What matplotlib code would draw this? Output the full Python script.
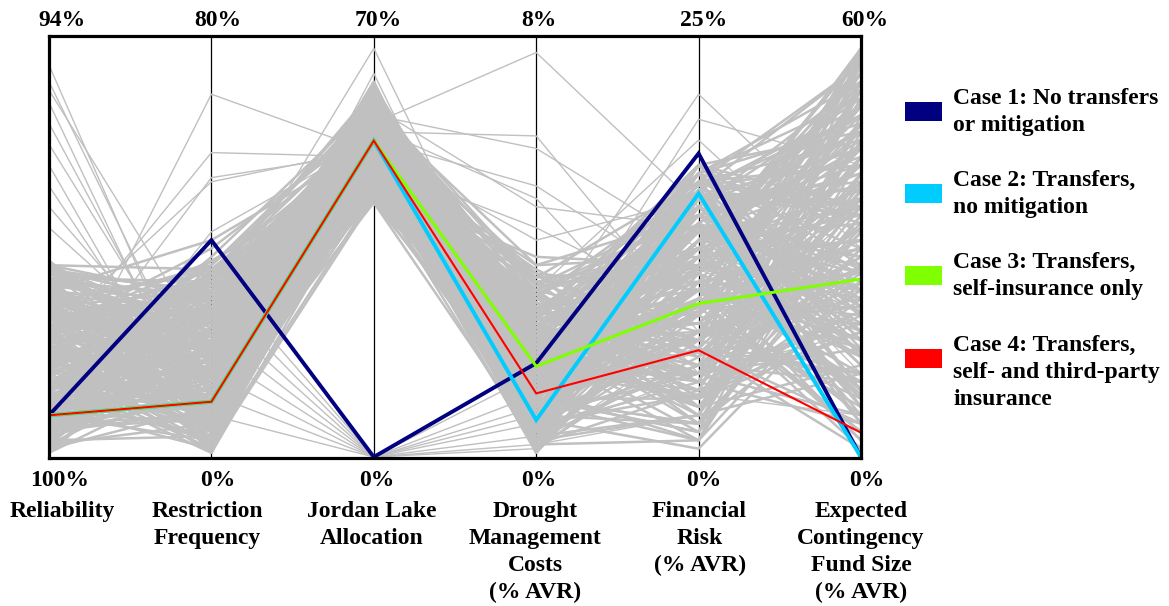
import matplotlib
matplotlib.use("Agg")
import matplotlib.pyplot as plt
from matplotlib.patches import Rectangle
from matplotlib.transforms import offset_copy, blended_transform_factory
import numpy as np

# ---- objectives (axes) ----
objective_names = [
    "Reliability",
    "Restriction\nFrequency",
    "Jordan Lake\nAllocation",
    "Drought\nManagement\nCosts\n(% AVR)",
    "Financial\nRisk\n(% AVR)",
    "Expected\nContingency\nFund Size\n(% AVR)",
]
axis_top_values = [94, 80, 70, 8, 25, 60]      # value at top of each axis (%)
axis_bottom_values = [100, 0, 0, 0, 0, 0]      # value at bottom of each axis (%)

# ---- highlighted cases (values in % on each objective) ----
case_labels = [
    "Case 1: No transfers\nor mitigation",
    "Case 2: Transfers,\nno mitigation",
    "Case 3: Transfers,\nself-insurance only",
    "Case 4: Transfers,\nself- and third-party\ninsurance",
]
case_colors = ["#000080", "#00ccff", "#80ff00", "#ff0000"]
case1 = [99.4, 41.6, 0.0, 1.80, 18.2, 0.0]
case2 = [99.4, 10.6, 53.1, 0.71, 15.8, 0.0]
case3 = [99.4, 10.6, 53.1, 1.74, 9.2, 25.6]
case4 = [99.4, 10.6, 53.1, 1.22, 6.4, 3.5]
case_values = [case1, case2, case3, case4]
case_widths = [2.8, 2.8, 2.2, 1.5]

# ---- full solution set (position along each axis, % of axis range) ----
# bulk of the solutions
core_solutions = [
    [12, 30, 72, 20, 45, 60], [25, 18, 68, 15, 38, 80], [8, 40, 80, 30, 60, 25],
    [35, 22, 75, 10, 20, 90], [18, 10, 65, 25, 55, 40], [40, 35, 82, 35, 65, 70],
    [5, 15, 70, 8, 15, 55], [28, 42, 78, 22, 50, 15], [15, 28, 62, 40, 30, 85],
    [45, 12, 85, 18, 68, 30], [22, 38, 74, 5, 10, 95], [10, 20, 67, 28, 42, 50],
    [32, 8, 79, 12, 58, 65], [3, 33, 71, 45, 25, 20], [20, 25, 88, 16, 48, 75],
    [38, 44, 64, 33, 62, 45], [14, 5, 76, 6, 35, 88], [27, 36, 83, 38, 18, 35],
    [7, 26, 69, 20, 70, 60], [42, 16, 73, 26, 40, 10], [17, 41, 81, 11, 52, 92],
    [30, 14, 66, 42, 28, 55], [9, 34, 77, 24, 64, 28], [36, 21, 70, 14, 8, 72],
    [23, 9, 86, 30, 46, 40], [46, 30, 63, 19, 56, 82], [11, 43, 75, 36, 22, 18],
    [29, 19, 80, 9, 66, 50], [4, 27, 68, 27, 36, 97], [33, 39, 72, 44, 12, 62],
    [19, 11, 84, 17, 60, 22], [41, 24, 65, 32, 44, 78], [13, 37, 78, 7, 30, 45],
    [26, 6, 71, 23, 54, 68], [44, 32, 87, 13, 26, 8], [6, 17, 73, 34, 68, 86],
    [31, 45, 67, 21, 16, 35], [21, 13, 82, 40, 50, 58], [37, 29, 69, 4, 34, 94],
    [16, 40, 76, 29, 62, 12], [24, 3, 63, 15, 40, 70], [39, 35, 85, 37, 24, 48],
    [10, 22, 74, 10, 70, 30], [34, 7, 79, 25, 14, 76], [2, 31, 70, 43, 46, 52],
    [28, 26, 88, 31, 64, 84], [43, 42, 66, 8, 38, 26], [15, 14, 77, 20, 20, 64],
    [35, 38, 72, 46, 58, 38], [8, 10, 83, 14, 6, 90], [22, 34, 61, 26, 48, 16],
    [47, 20, 75, 33, 32, 74], [12, 44, 81, 2, 56, 42], [30, 4, 68, 38, 66, 60],
    [18, 28, 86, 22, 28, 96], [40, 15, 64, 12, 42, 20], [5, 39, 73, 30, 10, 66],
    [25, 23, 79, 41, 60, 34], [37, 9, 70, 17, 52, 88], [14, 35, 84, 6, 22, 46],
    [20, 2, 62, 35, 44, 28], [33, 18, 90, 9, 63, 58], [9, 30, 66, 24, 18, 80],
    [44, 40, 78, 16, 36, 6], [26, 12, 71, 39, 54, 44], [3, 22, 82, 13, 30, 72],
    [31, 47, 69, 28, 68, 24], [17, 8, 75, 5, 46, 92], [38, 27, 86, 32, 12, 50],
    [12, 36, 63, 19, 58, 36], [24, 16, 80, 44, 26, 62], [42, 6, 72, 11, 50, 14],
    [7, 43, 67, 27, 40, 84], [29, 24, 84, 3, 64, 40], [16, 33, 74, 36, 8, 68],
    [36, 11, 61, 21, 34, 98], [23, 38, 77, 8, 56, 32], [45, 26, 88, 29, 22, 56],
    [10, 4, 70, 15, 66, 76], [32, 32, 65, 42, 42, 18],
    [6, 24, 79, 18, 52, 14], [41, 37, 71, 6, 62, 66], [19, 7, 64, 31, 16, 88],
    [34, 29, 87, 24, 44, 4], [2, 12, 74, 40, 58, 48], [27, 41, 66, 13, 4, 82],
    [46, 19, 81, 35, 32, 36], [13, 26, 69, 1, 66, 58], [38, 4, 76, 27, 20, 26],
    [21, 46, 83, 46, 48, 94], [9, 17, 62, 9, 2, 42], [31, 35, 78, 33, 70, 78],
    [43, 10, 70, 23, 38, 2], [16, 31, 85, 42, 14, 54], [24, 21, 67, 4, 60, 90],
    [4, 45, 77, 37, 26, 20], [36, 2, 73, 14, 54, 62], [11, 28, 89, 26, 36, 32],
    [28, 14, 64, 48, 46, 74], [45, 39, 79, 11, 64, 8], [20, 33, 71, 2, 28, 96],
    [7, 9, 82, 31, 8, 38], [33, 43, 68, 19, 52, 60], [17, 19, 75, 43, 66, 16],
    [39, 25, 84, 7, 18, 86], [1, 36, 63, 22, 40, 44], [25, 1, 78, 34, 56, 12],
    [42, 32, 72, 16, 4, 68], [14, 22, 86, 1, 46, 28], [30, 41, 65, 38, 34, 92],
    [8, 18, 71, 12, 48, 52], [34, 26, 80, 28, 30, 18], [19, 42, 66, 6, 62, 74],
    [43, 7, 76, 21, 14, 40], [12, 31, 85, 34, 54, 88], [27, 13, 69, 17, 38, 6],
    [3, 38, 74, 9, 68, 34], [39, 22, 62, 39, 24, 62], [15, 4, 82, 2, 44, 80],
    [30, 34, 73, 25, 58, 22], [22, 19, 87, 14, 8, 50], [46, 45, 68, 31, 50, 96],
    [6, 11, 78, 18, 34, 12], [35, 28, 64, 7, 66, 70], [18, 40, 81, 36, 20, 44],
    [41, 16, 72, 22, 56, 84], [10, 25, 89, 11, 40, 28], [29, 5, 67, 29, 12, 58],
    [24, 44, 76, 4, 62, 16], [37, 33, 84, 41, 46, 90], [1, 20, 63, 16, 28, 66],
    [32, 12, 79, 24, 70, 46], [16, 37, 70, 32, 18, 8], [44, 27, 86, 9, 52, 76],
    [11, 8, 74, 38, 36, 36], [26, 43, 61, 13, 64, 94], [40, 18, 77, 27, 6, 54],
    [5, 35, 83, 5, 42, 24], [21, 3, 69, 20, 60, 86], [36, 40, 75, 35, 32, 14],
    [13, 23, 88, 12, 50, 64], [47, 11, 65, 30, 22, 42], [9, 46, 80, 23, 68, 80],
    [28, 29, 72, 3, 16, 30], [42, 1, 84, 18, 58, 72], [17, 32, 62, 44, 40, 4],
    [33, 17, 78, 10, 26, 98], [4, 42, 71, 26, 54, 48], [23, 24, 86, 37, 10, 20],
    [38, 6, 68, 15, 64, 60], [14, 39, 76, 30, 44, 82], [31, 21, 83, 8, 30, 38],
    [45, 36, 64, 22, 56, 10], [7, 14, 79, 33, 24, 68], [20, 47, 70, 17, 66, 26],
    [35, 9, 87, 26, 36, 88], [2, 28, 73, 6, 52, 56], [26, 35, 65, 40, 14, 34],
    [40, 23, 81, 13, 60, 78], [12, 2, 75, 28, 28, 18], [30, 41, 62, 19, 48, 92],
    [18, 15, 84, 3, 4, 46], [43, 31, 73, 34, 62, 64], [8, 37, 68, 10, 38, 6],
    [25, 10, 89, 23, 54, 74], [37, 45, 77, 32, 20, 32], [11, 19, 64, 16, 68, 90],
    [32, 27, 80, 1, 42, 50], [19, 6, 70, 39, 12, 22], [44, 34, 85, 20, 50, 84],
    [6, 22, 67, 27, 32, 62], [29, 40, 78, 11, 64, 12], [15, 12, 72, 36, 18, 96],
    [39, 30, 83, 7, 46, 38], [3, 8, 66, 24, 58, 70], [22, 43, 87, 15, 26, 2],
    [34, 20, 74, 30, 70, 54], [10, 33, 61, 4, 10, 80], [27, 4, 79, 33, 44, 26],
    [46, 38, 70, 18, 34, 66], [13, 16, 82, 26, 60, 44], [36, 25, 68, 9, 22, 86],
    [20, 36, 76, 42, 50, 16], [41, 13, 86, 14, 6, 58], [5, 44, 73, 21, 66, 94],
    [24, 30, 65, 2, 38, 34], [31, 3, 81, 29, 16, 76], [16, 26, 90, 12, 56, 8],
    [42, 39, 71, 37, 28, 48], [8, 21, 63, 19, 64, 82], [28, 9, 77, 8, 48, 24],
    [35, 46, 84, 25, 12, 60], [14, 29, 69, 34, 40, 90], [39, 17, 75, 13, 70, 36],
    [1, 34, 80, 4, 24, 72], [23, 12, 67, 31, 54, 14], [45, 24, 88, 20, 36, 52],
    [9, 40, 72, 10, 8, 78], [26, 7, 64, 27, 62, 40], [33, 32, 78, 17, 46, 98],
    [17, 44, 85, 5, 30, 20], [38, 19, 70, 39, 58, 68], [4, 5, 76, 14, 14, 30],
    [21, 37, 62, 23, 68, 56], [43, 27, 82, 8, 42, 84], [12, 15, 74, 30, 20, 10],
    [30, 42, 88, 16, 52, 46], [19, 1, 68, 36, 34, 74], [36, 35, 79, 3, 66, 28],
    [7, 30, 66, 25, 4, 64],
    [30, 50, 80, 20, 40, 50], [15, 48, 85, 25, 55, 30], [40, 52, 75, 15, 35, 70],
]

# sparser solutions away from the bulk
outlier_solutions = [
    # large loss of reliability
    [94, 5, 72, 20, 40, 50], [90, 10, 78, 15, 30, 60], [85, 3, 70, 25, 50, 40],
    [80, 8, 82, 10, 45, 30], [75, 12, 68, 30, 35, 75], [70, 2, 76, 18, 60, 20],
    [65, 6, 74, 22, 25, 55], [60, 15, 80, 12, 50, 85], [55, 20, 66, 28, 40, 10],
    [88, 25, 72, 16, 20, 65],
    # frequent restrictions
    [10, 87, 73, 25, 35, 45], [25, 73, 72, 30, 50, 60], [15, 67, 73, 20, 30, 40],
    [30, 66, 74, 35, 45, 80], [5, 54, 76, 15, 55, 25],
    # no Jordan Lake allocation
    [10, 25, 0, 5, 20, 30], [20, 35, 0, 10, 35, 50], [15, 15, 0, 3, 10, 20],
    [25, 40, 0, 15, 25, 60], [5, 30, 0, 8, 45, 40], [30, 20, 0, 20, 15, 10],
    [12, 45, 0, 2, 30, 70], [18, 10, 0, 12, 50, 35],
    # high drought management costs
    [20, 30, 80, 97, 60, 40], [15, 25, 78, 77, 30, 60], [30, 35, 82, 74, 50, 35],
    [22, 20, 76, 65, 40, 70], [10, 40, 79, 62, 20, 45], [35, 15, 84, 60, 55, 25],
    [18, 28, 70, 55, 35, 85], [28, 12, 74, 52, 62, 30],
    # high financial risk
    [20, 25, 75, 30, 87, 50], [25, 30, 80, 20, 81, 70], [15, 20, 72, 40, 76, 40],
    [12, 34, 98, 18, 50, 97], [26, 18, 92, 12, 44, 93],
]

plt.rcParams["font.family"] = ["Liberation Serif", "DejaVu Serif"]
plt.rcParams["font.weight"] = "bold"

W, Hpx = 1169, 606
fig = plt.figure(figsize=(W / 100, Hpx / 100), dpi=100)
ax = fig.add_axes([49 / W, (Hpx - 458) / Hpx, (861 - 49) / W, (458 - 36) / Hpx])

n_axes = len(objective_names)
xs = np.arange(n_axes)
top = np.array(axis_top_values, dtype=float)
bot = np.array(axis_bottom_values, dtype=float)


def normalize(values):
    v = np.asarray(values, dtype=float)
    return (v - bot) / (top - bot)


# vertical objective axes
for i in range(1, n_axes - 1):
    ax.axvline(i, color="black", lw=0.9, zorder=1)

# all solutions in grey
grey = "#c0c0c0"
for row in outlier_solutions:
    ax.plot(xs, np.asarray(row) / 100.0, color=grey, lw=1.0, zorder=2)
for row in core_solutions:
    ax.plot(xs, np.asarray(row) / 100.0, color=grey, lw=1.8, zorder=2)

# highlighted cases
for vals, col, lw in zip(case_values, case_colors, case_widths):
    ax.plot(xs, normalize(vals), color=col, lw=lw, zorder=4,
            solid_joinstyle="miter")

ax.set_xlim(0, n_axes - 1)
ax.set_ylim(-0.0024, 1.0096)
ax.set_xticks([])
ax.set_yticks([])
for s in ax.spines.values():
    s.set_linewidth(2.3)
    s.set_color("black")
    s.set_zorder(5)

fs = 17
lsp = 1.38
trans = blended_transform_factory(ax.transData, fig.transFigure)
top_dx = [13, 6, 4, 3, 5, 4]
bot_dx = [11, 6, 3, 3, 5, 6]
name_dx = [13, -4, -2, -1, 1, 0]


def fmt(v):
    return f"{v:g}%"


for i in range(n_axes):
    t = offset_copy(trans, fig=fig, x=top_dx[i], y=0, units="dots")
    ax.text(i, 1 - 20 / Hpx, fmt(axis_top_values[i]), transform=t,
            ha="center", va="center", fontsize=fs, fontweight="bold",
            clip_on=False)
    t = offset_copy(trans, fig=fig, x=bot_dx[i], y=0, units="dots")
    ax.text(i, 1 - 481 / Hpx, fmt(axis_bottom_values[i]), transform=t,
            ha="center", va="center", fontsize=fs, fontweight="bold",
            clip_on=False)
    t = offset_copy(trans, fig=fig, x=name_dx[i], y=0, units="dots")
    ax.text(i, 1 - 501 / Hpx, objective_names[i], transform=t,
            ha="center", va="top", fontsize=fs, fontweight="bold",
            linespacing=lsp, multialignment="center", clip_on=False)

# legend
legend_tops = [98, 180, 262, 345]
for lab, col, y in zip(case_labels, case_colors, legend_tops):
    yc = y + 13.5
    fig.patches.append(Rectangle((905 / W, 1 - (yc + 9.5) / Hpx), 37 / W, 19 / Hpx,
                                 transform=fig.transFigure, facecolor=col,
                                 edgecolor="none"))
    fig.text(953 / W, 1 - (y - 10) / Hpx, lab, ha="left", va="top",
             fontsize=fs, fontweight="bold", linespacing=lsp)

fig.savefig("out.png", dpi=100)
